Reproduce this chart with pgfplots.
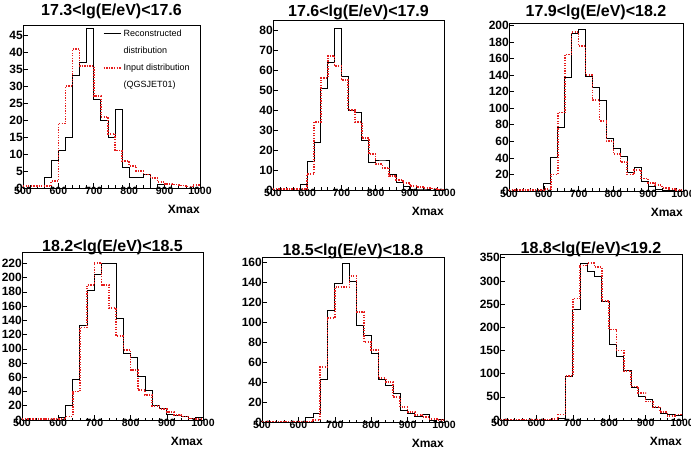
\documentclass[border=0pt]{standalone}
\usepackage{fontspec}
\setmainfont{Liberation Sans}
\usepackage{pgfplots}
\pgfplotsset{compat=1.18}
\usepackage{pgfplotstable}
\definecolor{myred}{RGB}{230,30,30}

\pgfplotstableread{
x reco input
500 0 0.5
520 0 0.5
540 0 0.5
560 3 0.5
580 8 2
600 11 19
620 15 30
640 33 41
660 37 36
680 47 36
700 26 27
720 20 21
740 15 16
760 23 11
780 6 8
800 3 6.5
820 3 5
840 4 4
860 0 3
880 1 1.8
900 0 1.2
920 0 1
940 0 0.7
960 0 0.4
980 0 0.9
1000 0 0.9
}\tabA

\pgfplotstableread{
x reco input
500 0 0.5
520 0 0.5
540 0 0.5
560 0 0.5
580 3 0.5
600 14.5 8
620 24 34
640 51 56
660 64 67
680 81 62
700 57 55
720 40 40
740 39 34
760 25 26
780 14 18
800 15 13
820 15 11
840 8 7
860 4 5
880 2 3.5
900 0.5 2
920 0.5 1.5
940 0.5 1
960 0 0.7
980 0 0.3
1000 0 0.3
}\tabB

\pgfplotstableread{
x reco input
500 0 1
520 0 1
540 0 1
560 0 1
580 0 1
600 9 2
620 40 20
640 77 95
660 137 165
680 190 192
700 195 175
720 139 140
740 125 110
760 110 85
780 63 60
800 51 45
820 42 35
840 23 20
860 29 25
880 11 15
900 5 10
920 2 7
940 1 4
960 1 2
980 0 1
1000 0 1
}\tabC

\pgfplotstableread{
x reco input
500 0 1
520 0 1
540 0 1
560 0 1
580 0 1
600 3 1
620 20 5
640 57 40
660 133 130
680 182 190
700 204 221
720 220 190
740 220 157
760 143 118
780 94 98
800 88 70
820 61 42
840 41 35
860 20 20
880 16 15
900 8 11
920 7 7
940 5 5
960 2 2
980 3 1.5
1000 3 1.5
}\tabD

\pgfplotstableread{
x reco input
500 0 0.5
520 0 0.5
540 0 0.5
560 0 0.5
580 0 0.5
600 0 0.5
620 5 0.5
640 9 2
660 43 55
680 112 104
700 139 135
720 159 135
740 141 146
760 97 110
780 87 80
800 69 72
820 43 44
840 37 40
860 29 25
880 12 15
900 9 10
920 6 7
940 8 5
960 2 3
980 3 2
1000 3 2
}\tabE

\pgfplotstableread{
x reco input
500 0 1
520 0 1
540 0 1
560 0 1
580 0 1
600 0 1
620 0 1
640 0 2
660 3 12
680 95 95
700 239 262
720 338 333
740 320 338
760 310 330
780 256 256
800 162 195
820 136 150
840 106 106
860 70 72
880 50 58
900 45 40
920 27 28
940 15 17
960 12 8
980 10 12
1000 10 12
}\tabF

\pgfplotsset{
  hist/.style={
    scale only axis,
    anchor=south west,
    xmin=500, xmax=1000, ymin=0,
    xtick={500,600,...,1000},
    minor x tick num=4,
    tick align=inside,
    xtick pos=left, ytick pos=left,
    major tick length=5pt, minor tick length=2.5pt,
    tick style={black, line width=0.6pt},
    /pgf/number format/assume math mode=true,
    /pgf/number format/set thousands separator={},
    scaled ticks=false,
    xticklabel style={font=\bfseries\fontsize{10.5}{11}\selectfont, yshift=2pt, inner sep=1pt},
    yticklabel style={font=\bfseries\fontsize{12}{12}\selectfont, xshift=1pt, inner sep=1pt},
    axis line style={line width=0.8pt},
    xlabel={Xmax},
    xlabel style={at={(rel axis cs:1,0)}, anchor=north east, yshift=-17pt,
      font=\bfseries\fontsize{12}{12}\selectfont, inner sep=0pt},
    title style={font=\bfseries\fontsize{16}{16}\selectfont, inner sep=0pt, at={(0.5,1)}, anchor=base},
  },
  reco/.style={black, line width=0.9pt, const plot, forget plot},
  inp/.style={myred, line width=1.7pt, dash pattern=on 1.3pt off 1.3pt, const plot, forget plot},
}

\begin{document}
\begin{tikzpicture}
\path[use as bounding box] (0,0) rectangle (691pt,453pt);

\begin{axis}[hist, at={(23pt,265pt)}, width=177pt, height=163pt, ymax=48,
  ytick={0,5,...,45}, title={17.3<lg(E/eV)<17.6}, title style={yshift=4pt},
  legend style={draw=none, fill=none, at={(rel axis cs:0.45,0.985)}, anchor=north west,
    font=\fontsize{9}{9}\selectfont, row sep=5pt, inner sep=0pt, legend cell align=left},
  legend cell align=left]
\addplot[reco] table[x=x,y=reco]{\tabA};
\addplot[inp] table[x=x,y=input]{\tabA};
\addlegendimage{black, line width=0.9pt}
\addlegendentry{Reconstructed}
\addlegendimage{empty legend}
\addlegendentry{distribution}
\addlegendimage{myred, line width=1.7pt, dash pattern=on 1.3pt off 1.3pt}
\addlegendentry{Input distribution}
\addlegendimage{empty legend}
\addlegendentry{(QGSJET01)}
\end{axis}

\begin{axis}[hist, at={(273pt,263pt)}, width=171pt, height=170pt, ymax=85,
  ytick={0,10,...,80}, title={17.6<lg(E/eV)<17.9}, title style={yshift=-3pt}]
\addplot[reco] table[x=x,y=reco]{\tabB};
\addplot[inp] table[x=x,y=input]{\tabB};
\end{axis}

\begin{axis}[hist, at={(509pt,262pt)}, width=174pt, height=168pt, ymax=203,
  ytick={0,20,...,200}, title={17.9<lg(E/eV)<18.2}, title style={yshift=0pt}]
\addplot[reco] table[x=x,y=reco]{\tabC};
\addplot[inp] table[x=x,y=input]{\tabC};
\end{axis}

\begin{axis}[hist, at={(22pt,33pt)}, width=181pt, height=168pt, ymax=236,
  ytick={0,20,...,220}, title={18.2<lg(E/eV)<18.5}, title style={yshift=-5pt}]
\addplot[reco] table[x=x,y=reco]{\tabD};
\addplot[inp] table[x=x,y=input]{\tabD};
\end{axis}

\begin{axis}[hist, at={(262pt,31pt)}, width=182pt, height=165pt, ymax=165,
  ytick={0,20,...,160}, title={18.5<lg(E/eV)<18.8}, title style={yshift=-5pt}]
\addplot[reco] table[x=x,y=reco]{\tabE};
\addplot[inp] table[x=x,y=input]{\tabE};
\end{axis}

\begin{axis}[hist, at={(500pt,33pt)}, width=182pt, height=166pt, ymax=358,
  ytick={0,50,...,350}, title={18.8<lg(E/eV)<19.2}, title style={yshift=-5pt}]
\addplot[reco] table[x=x,y=reco]{\tabF};
\addplot[inp] table[x=x,y=input]{\tabF};
\end{axis}
\end{tikzpicture}
\end{document}
